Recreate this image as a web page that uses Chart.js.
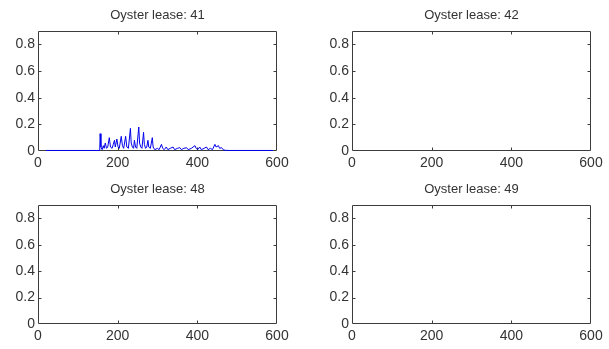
<!DOCTYPE html>
<html>
<head>
<meta charset="utf-8">
<script src="https://cdn.jsdelivr.net/npm/chart.js@4.4.0/dist/chart.umd.min.js"></script>
<style>
  html, body { margin: 0; padding: 0; background: #fff; }
  #wrap { position: relative; width: 609px; height: 349px; overflow: hidden; background: #fff; }
  canvas { position: absolute; }
</style>
</head>
<body>
<div id="wrap"></div>
<script>
// ---- data ----
const panelTitles = ["Oyster lease: 41", "Oyster lease: 42", "Oyster lease: 48", "Oyster lease: 49"];
const xTicks = [0, 200, 400, 600];
const yTicks = [0, 0.2, 0.4, 0.6, 0.8];
const xMin = 0, xMax = 600, yMin = 0, yMax = 0.9;

// lease 41 time series
const lease41X = [20, 155, 156, 158, 161, 164, 166, 169, 172, 175, 179, 182, 186, 189, 192, 194, 198, 201, 204,
  209, 212, 215, 220, 223, 227, 232, 234, 237, 240, 242, 245, 248, 253, 255, 258, 261, 265, 267, 270, 273,
  276, 278, 282, 287, 289, 293, 300, 304, 310, 313, 317, 322, 326, 332, 339, 343, 350, 356, 360, 366, 373,
  377, 385, 394, 397, 401, 406, 410, 417, 423, 427, 433, 438, 444, 447, 453, 456, 461, 465, 470, 480, 590];
const lease41Y = [0.004, 0.004, 0.13, 0.03, 0.01, 0.04, 0.02, 0.06, 0.02, 0.03, 0.10, 0.03, 0.02, 0.05, 0.08, 0.03, 0.09, 0.03, 0.02,
  0.11, 0.04, 0.02, 0.11, 0.03, 0.02, 0.17, 0.06, 0.03, 0.02, 0.08, 0.03, 0.02, 0.18, 0.06, 0.03, 0.02, 0.14, 0.05, 0.02, 0.03,
  0.08, 0.03, 0.02, 0.10, 0.03, 0.01, 0.02, 0.01, 0.05, 0.02, 0.01, 0.03, 0.01, 0.02, 0.03, 0.01, 0.02, 0.025, 0.01, 0.02, 0.025,
  0.01, 0.02, 0.04, 0.02, 0.01, 0.03, 0.01, 0.02, 0.03, 0.01, 0.02, 0.01, 0.05, 0.03, 0.04, 0.02, 0.025, 0.01, 0.005, 0.004, 0.004];
const lease42X = [], lease42Y = [];
const lease48X = [], lease48Y = [];
const lease49X = [], lease49Y = [];
const seriesX = [lease41X, lease42X, lease48X, lease49X];
const seriesY = [lease41Y, lease42Y, lease48Y, lease49Y];

// ---- layout (plot boxes) ----
const boxes = [
  {L: 38, T: 31, R: 277, B: 151},
  {L: 352, T: 31, R: 591, B: 151},
  {L: 38, T: 205, R: 277, B: 324},
  {L: 352, T: 205, R: 591, B: 324}
];
const AXW = 38, TITLEH = 31, AXH = 26;
const FONT = "'Liberation Sans', Arial, 'DejaVu Sans', sans-serif";
const TXT = '#333333';

const matlabBox = {
  id: 'matlabBox',
  beforeDatasetsDraw(chart) {
    const {ctx, chartArea: a, scales} = chart;
    ctx.save();
    ctx.strokeStyle = '#3c3c3c';
    ctx.lineWidth = 1;
    const l = Math.round(a.left) + 0.5, r = Math.round(a.right) - 0.5;
    const t = Math.round(a.top) + 0.5, b = Math.round(a.bottom) - 0.5;
    ctx.beginPath();
    ctx.rect(l, t, r - l, b - t);
    ctx.stroke();
    const tl = 3;
    ctx.beginPath();
    scales.x.ticks.forEach(tk => {
      if (tk.value <= scales.x.min || tk.value >= scales.x.max) return;
      const px = Math.round(scales.x.getPixelForValue(tk.value)) + 0.5;
      ctx.moveTo(px, b); ctx.lineTo(px, b - tl);
      ctx.moveTo(px, t); ctx.lineTo(px, t + tl);
    });
    scales.y.ticks.forEach(tk => {
      if (tk.value <= scales.y.min || tk.value >= scales.y.max) return;
      const py = Math.round(scales.y.getPixelForValue(tk.value)) + 0.5;
      ctx.moveTo(l, py); ctx.lineTo(l + tl, py);
      ctx.moveTo(r, py); ctx.lineTo(r - tl, py);
    });
    ctx.stroke();
    ctx.restore();
  }
};

const wrap = document.getElementById('wrap');
boxes.forEach((bx, i) => {
  const cv = document.createElement('canvas');
  const w = (bx.R - bx.L) + AXW * 2;
  const h = (bx.B - bx.T) + TITLEH + AXH;
  cv.width = w; cv.height = h;
  cv.style.width = w + 'px'; cv.style.height = h + 'px';
  cv.style.left = (bx.L - AXW) + 'px';
  cv.style.top = (bx.T - TITLEH) + 'px';
  wrap.appendChild(cv);
  const pts = seriesX[i].map((x, k) => ({x: x, y: seriesY[i][k]}));
  new Chart(cv, {
    type: 'line',
    data: { datasets: [{ data: pts, borderColor: 'rgb(0,0,235)', borderWidth: 1, pointRadius: 0, tension: 0, fill: false }] },
    options: {
      responsive: false, animation: false, devicePixelRatio: 1,
      layout: { padding: 0 },
      plugins: {
        legend: { display: false }, tooltip: { enabled: false },
        title: { display: true, text: panelTitles[i], color: TXT,
          font: { family: FONT, size: 13, weight: 'normal', lineHeight: 1.2 },
          padding: { top: 8, bottom: 7.4 } }
      },
      scales: {
        x: {
          type: 'linear', min: xMin, max: xMax,
          grid: { display: false, drawTicks: false }, border: { display: false },
          afterBuildTicks: s => { s.ticks = xTicks.map(v => ({value: v})); },
          afterFit: s => { s.height = AXH; },
          ticks: { color: TXT, font: { family: FONT, size: 14 }, padding: 4, maxRotation: 0, autoSkip: false,
            callback: v => String(v) }
        },
        y: {
          type: 'linear', min: yMin, max: yMax,
          grid: { display: false, drawTicks: false }, border: { display: false },
          afterBuildTicks: s => { s.ticks = yTicks.map(v => ({value: v})); },
          afterFit: s => { s.width = AXW; },
          ticks: { color: TXT, font: { family: FONT, size: 14 }, padding: 3, autoSkip: false,
            callback: v => String(v) }
        },
        yRight: {
          type: 'linear', position: 'right', min: yMin, max: yMax, display: true,
          grid: { display: false, drawTicks: false }, border: { display: false },
          ticks: { display: false },
          afterFit: s => { s.width = AXW; }
        }
      }
    },
    plugins: [matlabBox]
  });
});
</script>
</body>
</html>
